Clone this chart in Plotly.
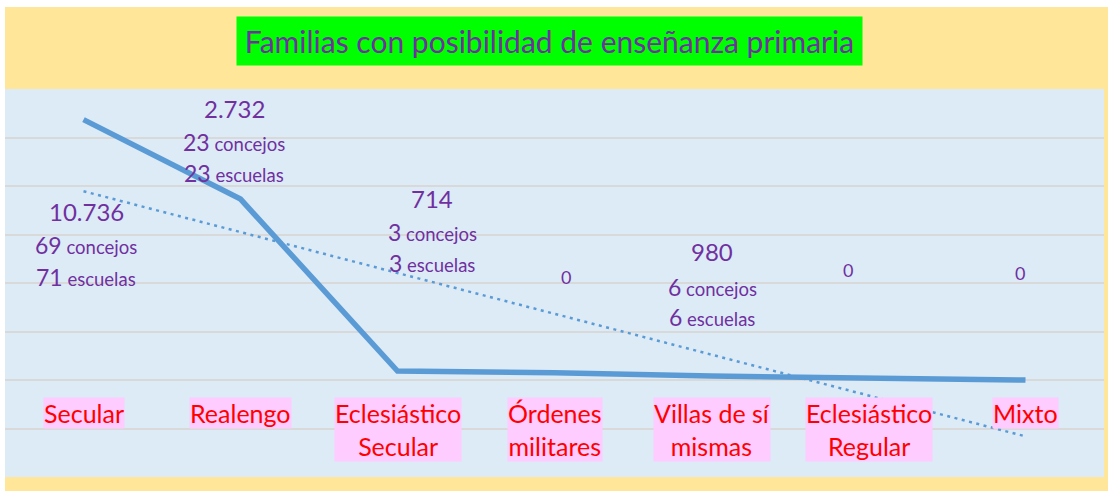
import numpy as np
import plotly.graph_objects as go

# ---- data ----
categories = ["Secular", "Realengo", "Eclesiástico Secular", "Órdenes militares",
              "Villas de sí mismas", "Eclesiástico Regular", "Mixto"]
category_labels = ["Secular", "Realengo", "Eclesiástico<br>Secular", "Órdenes<br>militares",
                   "Villas de sí<br>mismas", "Eclesiástico<br>Regular", "Mixto"]
line_values = [10736, 7460, 370, 300, 165, 80, 0]
familias = [10736, 2732, 714, 0, 980, 0, 0]
concejos = [69, 23, 3, None, 6, None, None]
escuelas = [71, 23, 3, None, 6, None, None]
title_text = "Familias con posibilidad de enseñanza primaria"

# ---- styling constants ----
W, H = 1108, 491
L, R, T, B = 5, 4, 89, 14
PW, PH = W - L - R, H - T - B
FONT = "Lato"
PURPLE = "#7030A0"
LINE = "#5B9BD5"


def px(x):
    return (x - L) / PW


def py(y):
    return (H - B - y) / PH


# linear trendline (as Excel's linear trendline of the series)
idx = np.arange(len(line_values))
slope, intercept = np.polyfit(idx, line_values, 1)
trend = slope * idx + intercept

fig = go.Figure()
fig.add_trace(go.Scatter(x=categories, y=trend, mode="lines",
                         line=dict(color=LINE, width=2.5, dash="3px,4.5px"),
                         hoverinfo="skip", showlegend=False))
fig.add_trace(go.Scatter(x=categories, y=line_values, mode="lines",
                         line=dict(color=LINE, width=5.5),
                         showlegend=False))

ann = []
# title
ann.append(dict(x=px(549.5), y=py(41), xref="paper", yref="paper",
                text=title_text, showarrow=False, bgcolor="#00FF00",
                width=625, height=48, borderpad=0,
                font=dict(family=FONT, size=30, color=PURPLE),
                xanchor="center", yanchor="middle"))

# category labels
for c, lab in zip(categories, category_labels):
    ann.append(dict(x=c, y=py(397), xref="x", yref="paper", text=lab,
                    showarrow=False, bgcolor="#FFCCFF", borderpad=0,
                    font=dict(family=FONT, size=25, color="#FF0000"),
                    xanchor="center", yanchor="top"))

# data labels
label_pos = {  # x offset from category centre, y centres of lines (px)
    0: (2.5, [211, 245, 277]),
    1: (-6.5, [108, 142, 173]),
    2: (34.5, [198, 232, 263]),
    3: (11.5, [277]),
    4: (0.5, [252, 287, 317]),
    5: (-20.5, [270]),
    6: (-5.5, [273]),
}


def fmt(n):
    return f"{n:,}".replace(",", ".")


for i, c in enumerate(categories):
    dx, ys = label_pos[i]
    if concejos[i] is None:
        ann.append(dict(x=c, y=py(ys[0]), xref="x", yref="paper", xshift=dx,
                        text=fmt(familias[i]), showarrow=False,
                        xanchor="center", yanchor="middle",
                        font=dict(family=FONT, size=18, color=PURPLE)))
        continue
    lines = [
        (fmt(familias[i]), 24),
        (f"<span style='font-size:23px'>{concejos[i]}</span> concejos", 18.5),
        (f"<span style='font-size:23px'>{escuelas[i]}</span> escuelas", 18.5),
    ]
    for (t, s), yy in zip(lines, ys):
        ann.append(dict(x=c, y=py(yy), xref="x", yref="paper", xshift=dx,
                        text=t, showarrow=False,
                        xanchor="center", yanchor="middle",
                        font=dict(family=FONT, size=s, color=PURPLE)))

shapes = [
    dict(type="rect", xref="paper", yref="paper", x0=px(0), x1=px(W),
         y0=py(7), y1=py(-1), fillcolor="white", line=dict(width=0), layer="below"),
    dict(type="rect", xref="paper", yref="paper", x0=px(-1), x1=px(5),
         y0=py(H + 1), y1=py(-1), fillcolor="white", line=dict(width=0), layer="below"),
]

fig.update_layout(
    width=W, height=H,
    margin=dict(l=L, r=R, t=T, b=B, pad=0),
    paper_bgcolor="#FFE699",
    plot_bgcolor="#DDEBF7",
    annotations=ann,
    shapes=shapes,
    showlegend=False,
    xaxis=dict(type="category", range=[-0.5, 6.5], showticklabels=False,
               showgrid=False, zeroline=False, showline=False, ticks=""),
    yaxis=dict(range=[-4000, 12000], dtick=2000, showticklabels=False,
               showgrid=True, gridcolor="#D9D9D9", gridwidth=1.5,
               zeroline=True, zerolinecolor="#D9D9D9", zerolinewidth=1.5,
               showline=False, ticks=""),
)

fig.write_html("out.html", config={"displayModeBar": False},
               post_script="document.body.style.margin='0';")
